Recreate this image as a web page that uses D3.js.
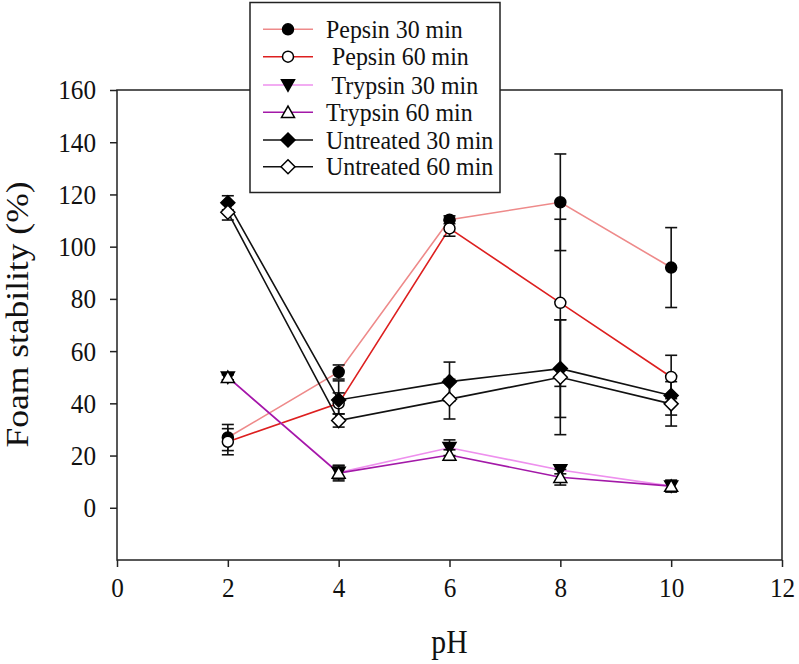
<!DOCTYPE html>
<html>
<head>
<meta charset="utf-8">
<script src="https://cdn.jsdelivr.net/npm/d3@7"></script>
<style>
  html, body { margin: 0; padding: 0; background: #fff; }
  svg { display: block; }
  text { font-family: "Liberation Serif", "Times New Roman", serif; fill: #111; }
</style>
</head>
<body>
<svg id="chart" width="799" height="664"></svg>
<script>
// ---- data ----
const pH = [2, 4, 6, 8, 10];
const seriesNames = ["Pepsin 30 min", " Pepsin 60 min", " Trypsin 30 min", "Trypsin 60 min", "Untreated 30 min", "Untreated 60 min"];
const pepsin30 = [26.9, 52.0, 110.3, 117.0, 92.0];
const pepsin30Err = [5.0, 2.7, 1.5, 18.5, 15.3];
const pepsin60 = [25.3, 40.0, 107.0, 78.5, 50.1];
const pepsin60Err = [5.0, 4.0, 3.0, 32.0, 8.3];
const trypsin30 = [50.0, 13.5, 23.0, 14.5, 8.3];
const trypsin30Err = [1.0, 2.5, 3.0, 1.5, 2.3];
const trypsin60 = [50.0, 13.3, 20.2, 11.7, 8.3];
const trypsin60Err = [1.0, 3.0, 2.0, 3.0, 2.0];
const untreated30 = [116.8, 41.3, 48.3, 53.3, 43.0];
const untreated30Err = [2.7, 7.3, 7.5, 18.7, 7.5];
const untreated60 = [113.2, 33.4, 41.6, 50.0, 39.8];
const untreated60Err = [3.0, 2.5, 7.6, 22.0, 8.5];
const xTicks = [0, 2, 4, 6, 8, 10, 12];
const yTicks = [0, 20, 40, 60, 80, 100, 120, 140, 160];
const xTitle = "pH";
const yTitle = "Foam stability (%)";

(function () {
const series = [
  {name: seriesNames[0], values: pepsin30, err: pepsin30Err, color: "#ee8a8a", marker: "circleFilled"},
  {name: seriesNames[1], values: pepsin60, err: pepsin60Err, color: "#dd1f1f", marker: "circleOpen"},
  {name: seriesNames[2], values: trypsin30, err: trypsin30Err, color: "#ee90ee", marker: "triDownFilled"},
  {name: seriesNames[3], values: trypsin60, err: trypsin60Err, color: "#a319a8", marker: "triUpOpen"},
  {name: seriesNames[4], values: untreated30, err: untreated30Err, color: "#111111", marker: "diamondFilled"},
  {name: seriesNames[5], values: untreated60, err: untreated60Err, color: "#111111", marker: "diamondOpen"}
];

// ---- layout ----
const svg = d3.select("#chart");
const pLeft = 117, pRight = 782, pTop = 90, pBottom = 560;
const x = d3.scaleLinear().domain([0, 12]).range([pLeft, pRight]);
const y = d3.scaleLinear().domain([-20, 160]).range([pBottom, pTop]);
const sx = 0.9; // horizontal squeeze of glyphs, as in the reference

// frame
svg.append("rect")
  .attr("x", pLeft).attr("y", pTop)
  .attr("width", pRight - pLeft).attr("height", pBottom - pTop)
  .attr("fill", "none").attr("stroke", "#222").attr("stroke-width", 1.5);

// axes
const gx = svg.append("g").attr("transform", `translate(0,${pBottom})`)
  .call(d3.axisBottom(x).tickValues(xTicks).tickSize(7).tickPadding(10).tickFormat(d3.format("d")));
const gy = svg.append("g").attr("transform", `translate(${pLeft},0)`)
  .call(d3.axisLeft(y).tickValues(yTicks).tickSize(7).tickPadding(14).tickFormat(d3.format("d")));
[gx, gy].forEach(g => {
  g.attr("font-size", null).attr("font-family", null);
  g.select(".domain").remove();
  g.selectAll(".tick line").attr("stroke", "#222").attr("stroke-width", 1.5);
  g.selectAll(".tick text")
    .style("font-family", "'Liberation Serif', 'Times New Roman', serif")
    .style("font-size", "28px").attr("fill", "#111")
    .attr("transform", `scale(${sx},1)`);
});
gy.selectAll(".tick text").attr("x", -21 / sx);

// titles
svg.append("text").attr("transform", `translate(${x(6)},653) scale(${sx},1)`)
  .attr("text-anchor", "middle").style("font-size", "33px").text(xTitle);
svg.append("text")
  .attr("transform", `translate(28,${(182 + 447) / 2}) rotate(-90)`)
  .attr("text-anchor", "middle").style("font-size", "31px")
  .attr("textLength", 266).attr("lengthAdjust", "spacingAndGlyphs")
  .text(yTitle);

// markers
function drawMarker(g, type, cx, cy) {
  const sw = 1.5;
  if (type.startsWith("circle")) {
    g.append("circle").attr("cx", cx).attr("cy", cy).attr("r", 5.5)
      .attr("fill", type.endsWith("Filled") ? "#000" : "#fff").attr("stroke", "#000").attr("stroke-width", sw);
  } else if (type.startsWith("triDown")) {
    const s = 6.5;
    g.append("path").attr("d", `M${cx - s},${cy - s * 0.8}L${cx + s},${cy - s * 0.8}L${cx},${cy + s * 0.95}Z`)
      .attr("fill", "#000").attr("stroke", "#000").attr("stroke-width", sw);
  } else if (type.startsWith("triUp")) {
    const s = 6.5;
    g.append("path").attr("d", `M${cx - s},${cy + s * 0.8}L${cx + s},${cy + s * 0.8}L${cx},${cy - s * 0.95}Z`)
      .attr("fill", "#fff").attr("stroke", "#000").attr("stroke-width", sw);
  } else if (type.startsWith("diamond")) {
    const s = 7;
    g.append("path").attr("d", `M${cx},${cy - s}L${cx + s},${cy}L${cx},${cy + s}L${cx - s},${cy}Z`)
      .attr("fill", type.endsWith("Filled") ? "#000" : "#fff").attr("stroke", "#000").attr("stroke-width", sw);
  }
}

const line = d3.line().x((d, i) => x(pH[i])).y(d => y(d));

// lines
const gLines = svg.append("g");
series.forEach(s => {
  gLines.append("path").datum(s.values).attr("d", line)
    .attr("fill", "none").attr("stroke", s.color).attr("stroke-width", 1.6);
});

// error bars
const gErr = svg.append("g").attr("stroke", "#111").attr("stroke-width", 1.6);
series.forEach(s => {
  s.values.forEach((v, i) => {
    const cx = x(pH[i]);
    const y1 = y(v + s.err[i]), y2 = y(v - s.err[i]);
    gErr.append("line").attr("x1", cx).attr("x2", cx).attr("y1", y1).attr("y2", y2);
    gErr.append("line").attr("x1", cx - 6).attr("x2", cx + 6).attr("y1", y1).attr("y2", y1);
    gErr.append("line").attr("x1", cx - 6).attr("x2", cx + 6).attr("y1", y2).attr("y2", y2);
  });
});

// markers
const gMarks = svg.append("g");
series.forEach(s => {
  s.values.forEach((v, i) => drawMarker(gMarks, s.marker, x(pH[i]), y(v)));
});

// legend
const lg = svg.append("g");
lg.append("rect").attr("x", 250).attr("y", 2.5).attr("width", 250).attr("height", 190)
  .attr("fill", "#fff").attr("stroke", "#222").attr("stroke-width", 1.5);
const rowY = [29.3, 56.7, 85, 112.3, 140, 166.7];
series.forEach((s, i) => {
  const yy = rowY[i];
  lg.append("line").attr("x1", 263).attr("x2", 313).attr("y1", yy).attr("y2", yy)
    .attr("stroke", s.color).attr("stroke-width", 1.6);
  drawMarker(lg, s.marker, 288, yy);
  lg.append("text").attr("transform", `translate(326,${yy + 8.5}) scale(0.92,1)`)
    .style("font-size", "26px")
    .attr("xml:space", "preserve").style("white-space", "pre").text(s.name);
});
})();
</script>
</body>
</html>
